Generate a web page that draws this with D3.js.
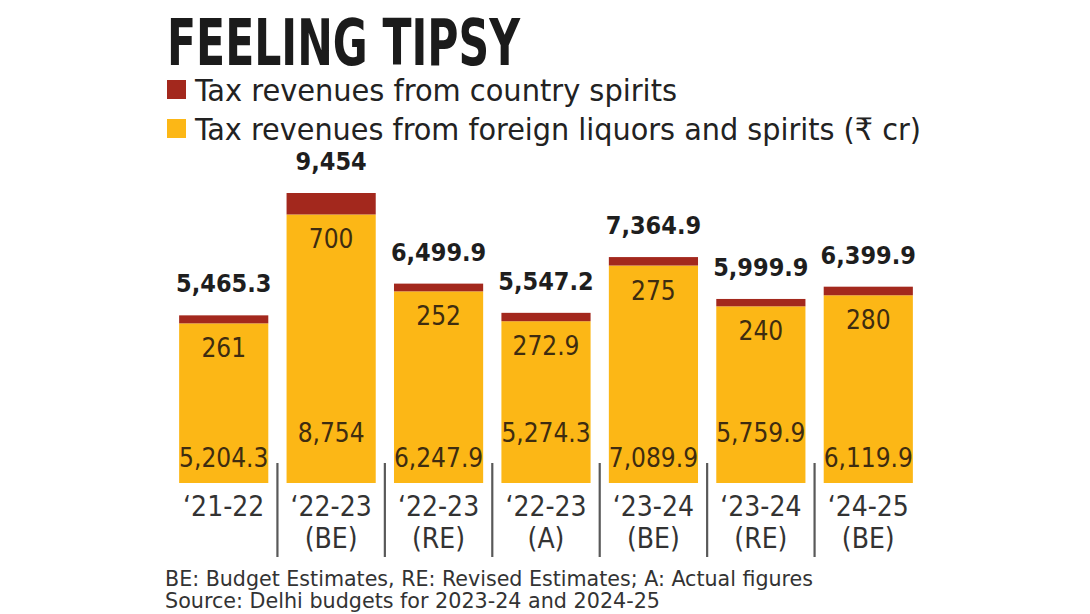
<!DOCTYPE html>
<html>
<head>
<meta charset="utf-8">
<style>
    body { margin: 0; background: #fff; }
    svg { display: block; }
    .cond {
        font-family: "DejaVu Sans Condensed", "DejaVu Sans", sans-serif;
        font-stretch: condensed;
    }
</style>
</head>
<body>
<svg width="1090" height="614"></svg>

<script src="https://d3js.org/d3.v7.min.js"></script>
<script>
// chart data (₹ crore)
const years = ["‘21-22", "‘22-23", "‘22-23", "‘22-23", "‘23-24", "‘23-24", "‘24-25"];
const kinds = ["", "(BE)", "(RE)", "(A)", "(BE)", "(RE)", "(BE)"];
const foreignLiquor = [5204.3, 8754, 6247.9, 5274.3, 7089.9, 5759.9, 6119.9];
const countrySpirits = [261, 700, 252, 272.9, 275, 240, 280];
const legendLabels = [
    "Tax revenues from country spirits",
    "Tax revenues from foreign liquors and spirits (₹ cr)"
];
const notes = [
    "BE: Budget Estimates, RE: Revised Estimates; A: Actual figures",
    "Source: Delhi budgets for 2023-24 and 2024-25"
];

const red = "#a3281d";
const yellow = "#fcb716";

let svg = d3.select("svg");

let rows = years.map((y, i) => ({
    i: i,
    year: y,
    kind: kinds[i],
    foreign: foreignLiquor[i],
    country: countrySpirits[i],
    total: Math.round((foreignLiquor[i] + countrySpirits[i]) * 10) / 10
}));

let x = d3.scaleBand()
    .domain(d3.range(rows.length))
    .range([170, 922])
    .paddingInner(0.17)
    .paddingOuter(0.085);

let y = d3.scaleLinear()
    .domain([0, d3.max(rows, d => d.total)])
    .range([483, 193]);

let fmt = d3.format(",");

// title
svg.append("text")
    .attr("x", 167).attr("y", 65)
    .attr("textLength", 353).attr("lengthAdjust", "spacingAndGlyphs")
    .style("font-family", "'Liberation Sans Narrow', 'DejaVu Sans Condensed', sans-serif")
    .style("font-weight", "bold")
    .style("font-size", "64px")
    .attr("fill", "#1b1b1b")
    .text("FEELING TIPSY");

// legend
let legend = svg.append("g")
    .selectAll("g")
    .data(legendLabels)
    .join("g")
    .attr("transform", (d, i) => `translate(0, ${i * 39})`);

legend.append("rect")
    .attr("x", 167).attr("y", 80)
    .attr("width", 19).attr("height", 19)
    .attr("fill", (d, i) => i == 0 ? red : yellow);

legend.append("text")
    .attr("class", "cond")
    .attr("x", 195).attr("y", 101)
    .attr("textLength", (d, i) => i == 0 ? 482 : 726)
    .attr("lengthAdjust", "spacingAndGlyphs")
    .style("font-size", "31px")
    .attr("fill", "#222")
    .text(d => d);

// bars
let bars = svg.append("g")
    .selectAll("g")
    .data(rows)
    .join("g");

bars.append("rect")
    .attr("x", d => x(d.i))
    .attr("width", x.bandwidth())
    .attr("y", d => y(d.foreign))
    .attr("height", d => y(0) - y(d.foreign))
    .attr("fill", yellow);

bars.append("rect")
    .attr("x", d => x(d.i))
    .attr("width", x.bandwidth())
    .attr("y", d => y(d.total))
    .attr("height", d => y(d.foreign) - y(d.total))
    .attr("fill", red);

// totals above bars
bars.append("text")
    .attr("class", "cond")
    .attr("x", d => x(d.i) + x.bandwidth() / 2)
    .attr("y", d => y(d.total) - 23)
    .attr("text-anchor", "middle")
    .style("font-size", "25px")
    .style("font-weight", "bold")
    .attr("fill", "#1e1e1e")
    .text(d => fmt(d.total));

// country spirits value, near top of yellow
bars.append("text")
    .attr("class", "cond")
    .attr("x", d => x(d.i) + x.bandwidth() / 2)
    .attr("y", d => y(d.foreign) + 34)
    .attr("text-anchor", "middle")
    .style("font-size", "26px")
    .attr("fill", "#3e2c10")
    .text(d => fmt(d.country));

// foreign liquor value, near bottom (staggered)
bars.append("text")
    .attr("class", "cond")
    .attr("x", d => x(d.i) + x.bandwidth() / 2)
    .attr("y", d => y(0) - (d.i % 2 == 0 ? 16 : 41))
    .attr("text-anchor", "middle")
    .style("font-size", "26px")
    .attr("fill", "#3e2c10")
    .text(d => fmt(d.foreign));

// category labels, two lines
let cats = svg.append("g")
    .selectAll("g")
    .data(rows)
    .join("g")
    .attr("class", "cond")
    .attr("text-anchor", "middle")
    .style("font-size", "28px")
    .attr("fill", "#333");

cats.append("text")
    .attr("x", d => x(d.i) + x.bandwidth() / 2)
    .attr("y", 516)
    .text(d => d.year);

cats.append("text")
    .attr("x", d => x(d.i) + x.bandwidth() / 2)
    .attr("y", 548)
    .text(d => d.kind);

// separators between categories
svg.append("g")
    .selectAll("line")
    .data(rows.slice(1))
    .join("line")
    .attr("x1", d => x(d.i) - x.step() * x.paddingInner() / 2)
    .attr("x2", d => x(d.i) - x.step() * x.paddingInner() / 2)
    .attr("y1", 463).attr("y2", 557)
    .attr("stroke", "#595959")
    .attr("stroke-width", 2.2);

// footnotes
svg.append("g")
    .selectAll("text")
    .data(notes)
    .join("text")
    .attr("class", "cond")
    .attr("x", 165)
    .attr("y", (d, i) => 586 + i * 22)
    .attr("textLength", (d, i) => i == 0 ? 648 : 495)
    .attr("lengthAdjust", "spacingAndGlyphs")
    .style("font-size", "21px")
    .attr("fill", "#333")
    .text(d => d);
</script>
</body>
</html>
